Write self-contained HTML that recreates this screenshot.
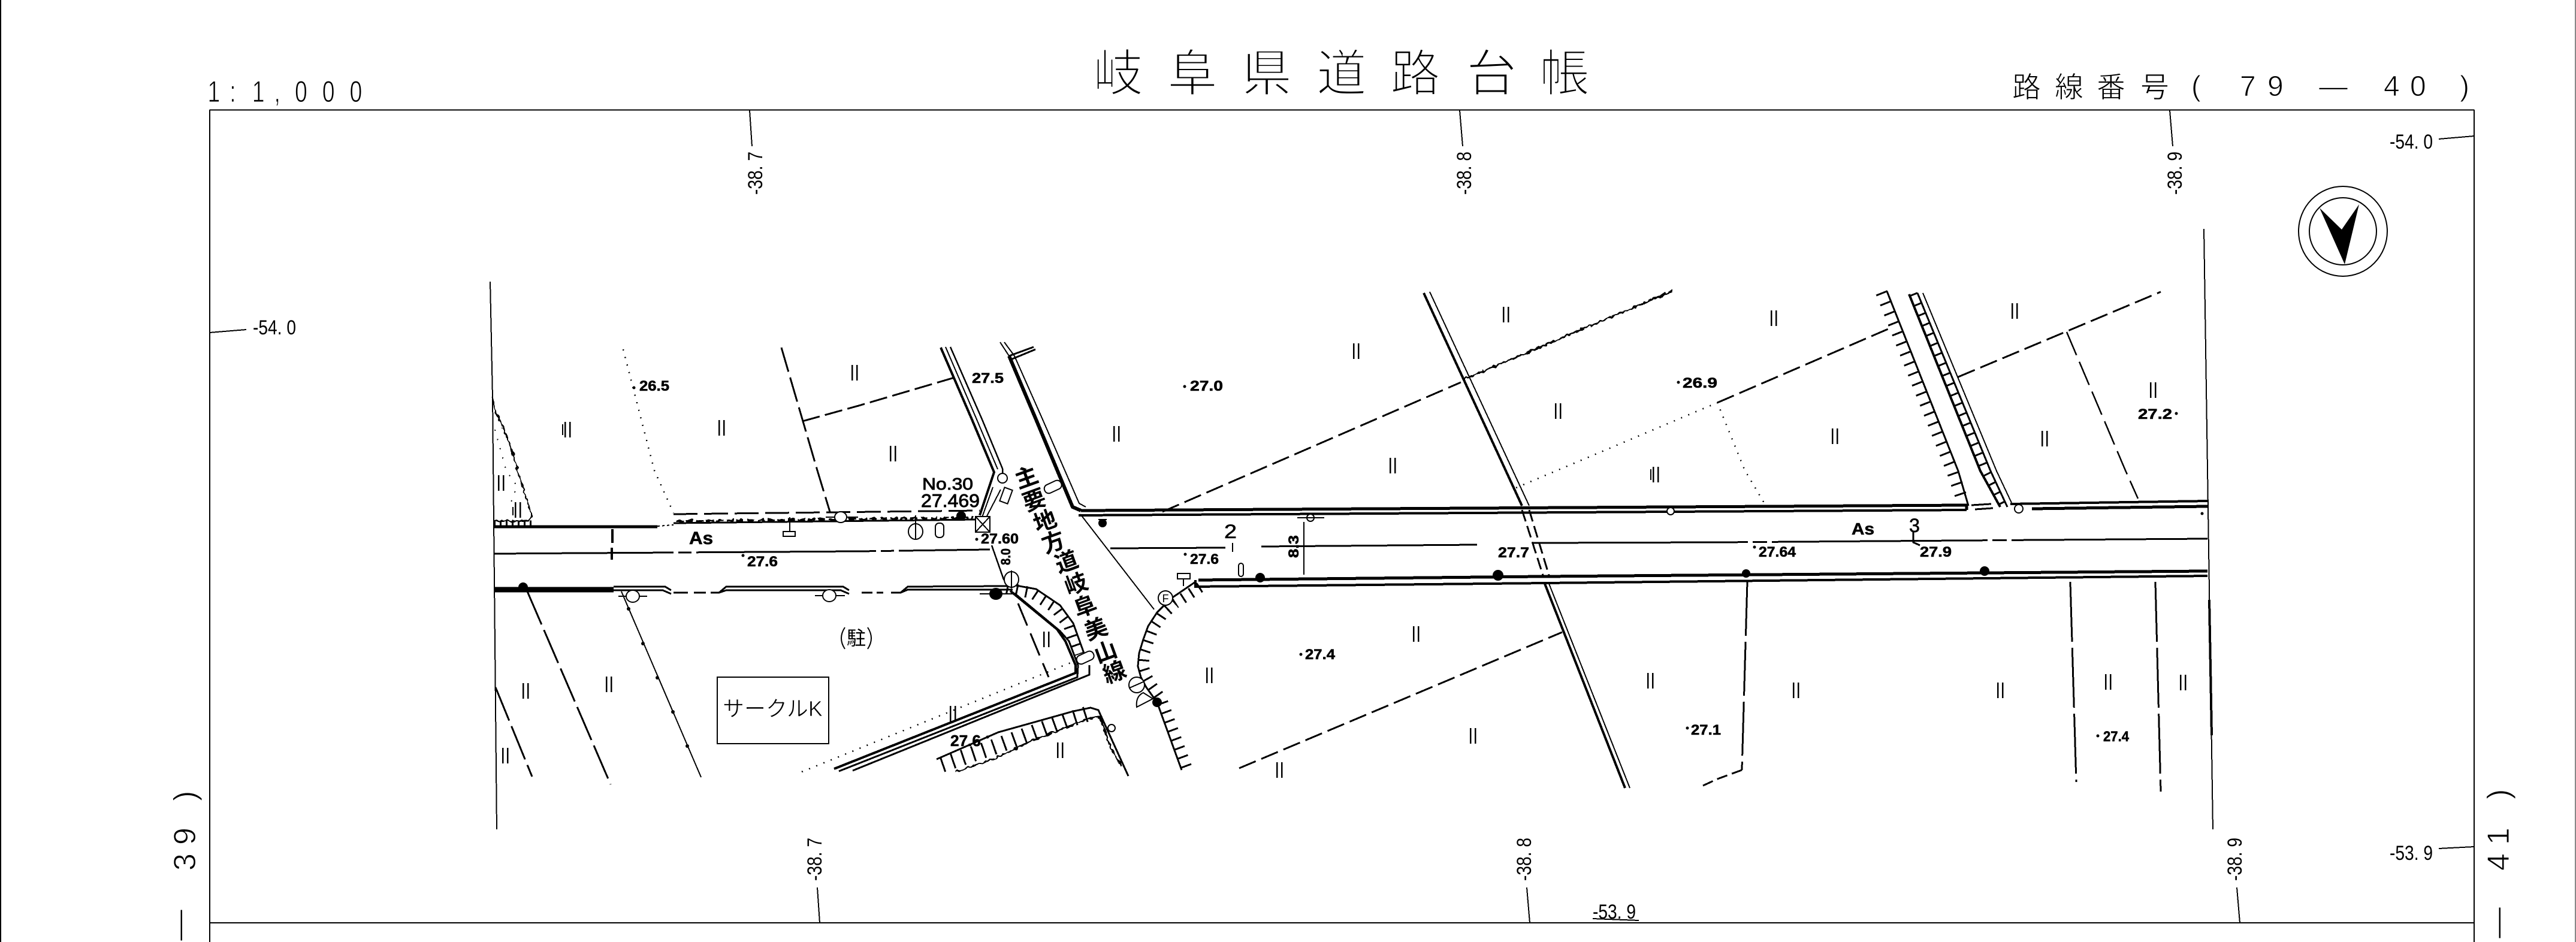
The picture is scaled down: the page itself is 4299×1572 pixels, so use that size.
<!DOCTYPE html>
<html lang="ja">
<head>
<meta charset="utf-8">
<title>岐阜県道路台帳</title>
<style>
html,body{margin:0;padding:0;background:#fff;width:4299px;height:1572px;overflow:hidden}
svg{display:block}
.l{fill:none;stroke:#000;stroke-width:2;shape-rendering:crispEdges}
.f{fill:#000;stroke:none}
.o{fill:#fff;stroke:#000;stroke-width:2}
text{font-family:"Liberation Sans","Noto Sans CJK JP",sans-serif;fill:#000}
.b{font-weight:700;font-size:24px;stroke:#000;stroke-width:.6}
.r{font-size:34px}
.thin{stroke:#fff;stroke-width:3}
.thin2{stroke:#fff;stroke-width:1}
.road{font-size:38px;font-weight:700;text-anchor:middle}
</style>
</head>
<body>
<svg xmlns="http://www.w3.org/2000/svg" width="4299" height="1572" viewBox="0 0 4299 1572">
<defs>
<filter id="w" filterUnits="userSpaceOnUse" x="0" y="0" width="4299" height="1572">
<feTurbulence type="fractalNoise" baseFrequency=".16" numOctaves="1" seed="3"/>
<feDisplacementMap in="SourceGraphic" scale="8" xChannelSelector="R" yChannelSelector="G"/>
</filter>
</defs>
<rect width="4299" height="1572" fill="#fff"/>

<!-- page edges and frame -->
<path class="l" d="M1,0V1572"/>
<path class="l" style="stroke:#888" d="M4298,0V1572"/>
<path class="l" d="M350,183V1572M4129,183V1572M350,183.500H4129M350,1540H4129"/>

<!-- headings -->
<text class="thin" font-size="84" x="1824 1948 2072 2197 2320 2447 2569" y="152">岐阜県道路台帳</text>
<text class="thin2" font-size="50" transform="scale(.75,1)" x="462 511 561 610 656 717 778" y="170">1:1,000</text>
<text class="thin2" font-size="48" x="3358 3429 3499 3572" y="162">路線番号</text>
<text class="thin2" font-size="48" x="3657 3738 3784 3870 3978 4022 4105" y="160">(79—40)</text>

<!-- grid ticks -->
<path class="l" d="M1251,184L1255,244M2436,184L2441,244M3621,184L3626,244M1364,1481L1368,1540M2548,1481L2553,1540M3733,1481L3738,1540M350,555L411,550M4070,232L4129,227M4070,1416L4129,1413M2658,1533L2735,1536"/>
<text class="r" transform="translate(1272,325) rotate(-90)" textLength="72" lengthAdjust="spacingAndGlyphs">-38. 7</text>
<text class="r" transform="translate(2455,325) rotate(-90)" textLength="72" lengthAdjust="spacingAndGlyphs">-38. 8</text>
<text class="r" transform="translate(3641,325) rotate(-90)" textLength="72" lengthAdjust="spacingAndGlyphs">-38. 9</text>
<text class="r" transform="translate(1371,1470) rotate(-90)" textLength="72" lengthAdjust="spacingAndGlyphs">-38. 7</text>
<text class="r" transform="translate(2555,1470) rotate(-90)" textLength="72" lengthAdjust="spacingAndGlyphs">-38. 8</text>
<text class="r" transform="translate(3741,1470) rotate(-90)" textLength="72" lengthAdjust="spacingAndGlyphs">-38. 9</text>
<text class="r" x="422" y="558" textLength="72" lengthAdjust="spacingAndGlyphs">-54. 0</text>
<text class="r" x="3988" y="248" textLength="72" lengthAdjust="spacingAndGlyphs">-54. 0</text>
<text class="r" x="3988" y="1435" textLength="72" lengthAdjust="spacingAndGlyphs">-53. 9</text>
<text class="r" x="2658" y="1533" textLength="72" lengthAdjust="spacingAndGlyphs">-53. 9</text>

<!-- side sheet numbers -->
<text class="thin2" font-size="52" transform="translate(316,1570) rotate(-90)">—</text>
<text class="thin2" font-size="52" transform="translate(326,1572) rotate(-90)" x="119 162 235" y="0">39)</text>
<text class="thin2" font-size="52" transform="translate(4185,1566) rotate(-90)">—</text>
<text class="thin2" font-size="52" transform="translate(4187,1572) rotate(-90)" x="119 162 238" y="0">41)</text>

<!-- north arrow -->
<ellipse class="l" style="shape-rendering:auto" cx="3910" cy="386" rx="74" ry="75"/>
<ellipse class="l" style="shape-rendering:auto" cx="3910" cy="386" rx="56" ry="56"/>
<polygon class="f" points="3871,347 3908,383 3937,341 3913,441"/>

<!-- match lines -->
<path class="l" d="M818,470L822,662L829,1384"/>
<path class="l" d="M3678,382L3693,1384"/>
<path class="l" style="stroke-width:4" d="M3687,1001L3691,1227"/>

<!-- main road west -->
<path class="l" style="stroke-width:5" d="M824,879H1097"/>
<path class="l" style="stroke-dasharray:4 4" d="M1097,878L1124,876"/>
<path class="l" style="stroke-width:3;stroke-dasharray:300 8 22 8" d="M824,924L1433,920L1652,917"/>
<path class="l" style="stroke-width:9" d="M824,984H1024"/>
<circle class="f" cx="873" cy="980" r="8"/>
<path class="l" style="stroke-width:3" d="M1024,979H1110L1120,985M1024,985H1106L1120,991"/>
<path class="l" style="stroke-width:3" d="M1124,989H1148M1158,989H1178M1186,989H1200L1212,979H1407L1417,985M1200,989L1212,985H1403L1417,991"/>
<path class="l" style="stroke-width:3" d="M1438,989H1456M1463,989H1474M1487,989H1503L1515,979L1684,978M1503,989L1515,984L1690,984"/>
<path class="l" style="stroke-width:3;stroke-dasharray:40 11" d="M1124,858L1635,852"/>
<path class="l" style="stroke-width:3" d="M1124,873L1632,867"/>
<path class="l" style="stroke-width:4;stroke-dasharray:12 5" filter="url(#w)" d="M1128,870L1625,864"/>
<path class="l" style="stroke-width:11;stroke-dasharray:3 7" d="M824,874H888"/>
<path class="l" style="stroke-width:4" d="M1022,883V906M1021,914V934"/>

<!-- left slope bank -->
<path class="l" style="stroke-width:2.500" filter="url(#w)" d="M821,662L827,687L841,717L855,752L864,786L877,826L888,861L882,869L824,869"/>
<path class="l" style="stroke-dasharray:2 14" d="M826,717L845,786L863,811L850,846"/>
<path class="l" style="stroke-width:2.500;stroke-dasharray:2 11" d="M1040,583L1092,785L1124,856"/>

<!-- parcel dashes -->
<path class="l" style="stroke-width:3;stroke-dasharray:42 10" d="M1304,580L1364,785L1385,854"/>
<path class="l" style="stroke-width:3;stroke-dasharray:30 9" d="M1339,703L1433,677L1593,630"/>
<path class="l" style="stroke-width:3;stroke-dasharray:60 10" d="M880,987L1019,1309"/>
<path class="l" style="stroke-width:3;stroke-dasharray:60 10" d="M827,1147L888,1296"/>
<path class="l" style="stroke-width:3;stroke-dasharray:30 10" d="M1940,854L2438,638"/>
<path class="l" style="stroke-width:3;stroke-dasharray:30 10" d="M2866,672L3158,546"/>
<path class="l" style="stroke-width:3;stroke-dasharray:30 10" d="M3268,629L3606,487"/>
<path class="l" style="stroke-width:2.500;stroke-dasharray:42 12" d="M3449,554L3547,785L3568,832"/>
<path class="l" style="stroke-width:3;stroke-dasharray:30 10" d="M2068,1282L2607,1055"/>
<path class="l" style="stroke-width:3;stroke-dasharray:90 10" d="M2916,971L2907,1285"/>
<path class="l" style="stroke-width:3;stroke-dasharray:18 8" d="M2907,1285L2866,1300L2840,1312"/>
<path class="l" style="stroke-width:3;stroke-dasharray:100 10" d="M3455,971L3465,1305"/>
<path class="l" style="stroke-width:3;stroke-dasharray:100 10" d="M3597,971L3606,1321"/>
<path class="l" style="stroke-width:3;stroke-dasharray:40 14" d="M1699,1007L1745,1118L1750,1130"/>
<path class="l" d="M1037,987L1170,1297"/>
<g class="f">
<circle cx="1049" cy="1016" r="3"/><circle cx="1073" cy="1074" r="3"/><circle cx="1097" cy="1131" r="3"/><circle cx="1123" cy="1188" r="3"/><circle cx="1147" cy="1245" r="3"/>
</g>
<path class="l" style="stroke-width:3" filter="url(#w)" d="M2443,633L2790,486"/>
<path class="l" style="stroke-width:2.500;stroke-dasharray:2 11" d="M2530,814L2866,672L2912,785L2944,839"/>

<!-- canal crossing -->
<path class="l" style="stroke-width:4" d="M2376,489L2540,844"/>
<path class="l" d="M2386,487L2552,844"/>
<path class="l" style="stroke-width:3;stroke-dasharray:20 8" d="M2540,851L2575,960M2552,851L2585,960"/>
<path class="l" style="stroke-width:2" d="M2585,974L2720,1315"/>
<path class="l" style="stroke-width:4" d="M2578,974L2712,1315"/>

<!-- north east embankment and channel -->
<path class="l" style="stroke-width:3" d="M3149,486L3268,786L3285,844"/>
<path class="l" style="stroke-width:20;stroke-dasharray:3 15" d="M3140,488L3259,788L3276,838"/>
<path class="l" style="stroke-width:4" d="M3186,491L3305,786L3338,846"/>
<path class="l" style="stroke-width:3" d="M3200,489L3322,786L3350,846"/>
<path class="l" d="M3209,489L3332,786L3357,839"/>
<path class="l" style="stroke-width:14;stroke-dasharray:3 15" d="M3193,490L3314,786L3344,846"/>

<!-- main road east -->
<path class="l" style="stroke-width:5" d="M1804,852L3282,843V851"/>
<path class="l" style="stroke-width:4" d="M1800,860L3282,851"/>
<path class="l" style="stroke-width:3" d="M3290,843L3323,841M3296,850L3326,848"/>
<path class="l" style="stroke-width:4" d="M3355,841L3684,836"/>
<path class="l" style="stroke-width:5" d="M3391,849L3684,845"/>
<path class="l" style="stroke-width:5" d="M2000,968L2574,962L3684,953"/>
<path class="l" style="stroke-width:4" d="M1995,968V979L2580,973L3684,961"/>
<path class="l" style="stroke-width:3;stroke-dasharray:360 8 24 8" d="M1853,915L2045,914M2105,912L2466,909M2557,906L2866,905L3684,899"/>

<!-- north-south road -->
<path class="l" style="stroke-width:4" d="M1570,580L1622,700L1659,788L1635,860"/>
<path class="l" d="M1578,579L1630,700L1665,783"/>
<path class="l" style="stroke-width:2.500" d="M1586,579L1639,700L1673,782V797"/>
<path class="l" d="M1657,813L1639,863M1670,817L1646,863"/>
<path class="l" style="stroke-width:6" d="M1684,594L1729,700L1790,846L1804,852"/>
<path class="l" d="M1669,571L1684,594M1676,571L1693,594L1740,700L1801,840L1812,846"/>
<path class="l" style="stroke-width:3" d="M1684,594L1725,579M1687,600L1728,583"/>
<path class="l" d="M1803,858L1926,1017"/>
<path class="l" style="stroke-width:2.500" d="M1655,910L1675,967L1684,975"/>

<!-- junction east arc -->
<path class="l" style="stroke-width:3" d="M1995,971L1954,999L1931,1022L1916,1045L1908,1067L1901,1090L1899,1112L1904,1130L1913,1147L1931,1172L1972,1285"/>
<path class="l" style="stroke-width:18;stroke-dasharray:3 13" d="M2003,980L1961,1007L1939,1027L1925,1048L1917,1069L1910,1090L1908,1112L1913,1128L1922,1144L1939,1168L1981,1282"/>

<!-- junction west curved bank -->
<path class="l" style="stroke-width:3" d="M1684,975L1729,983L1769,1010L1791,1040L1809,1090"/>
<path class="l" style="stroke-width:19;stroke-dasharray:3 13" d="M1680,981L1724,990L1762,1015L1784,1044L1801,1092"/>
<path class="l" style="stroke-width:4" d="M1686,986L1764,1050L1778,1070L1795,1110L1795,1123L1780,1129L1392,1283"/>
<path class="l" style="stroke-width:3" d="M1693,990L1769,1053L1784,1070L1799,1110L1798,1130L1400,1287"/>
<path class="l" style="stroke-width:3" d="M1818,1110V1126L1423,1286"/>
<path class="l" style="stroke-width:2.500;stroke-dasharray:2 11" d="M1338,1288L1789,1105"/>

<!-- south lot -->
<path class="l" style="stroke-width:3" d="M1563,1267L1666,1222L1791,1187L1820,1181L1833,1185L1883,1295"/>
<path class="l" style="stroke-width:3" filter="url(#w)" d="M1595,1288L1657,1267L1729,1233L1782,1213L1820,1198L1836,1197L1854,1250L1871,1277"/>
<path class="l" style="stroke-width:26;stroke-dasharray:3 15" d="M1572,1276L1660,1246L1787,1200L1822,1189"/>

<!-- land-use marks -->
<path class="l" style="stroke-width:2.500" d="M947,717m-4-13v26m8-26v26M1204,714m-4-13v26m8-26v26M1426,622m-4-13v26m8-26v26M1490,757m-4-13v26m8-26v26M1863,724m-4-13v26m8-26v26M2263,586m-4-13v26m8-26v26M2513,525m-4-13v26m8-26v26M2600,686m-4-13v26m8-26v26M2324,777m-4-13v26m8-26v26M2763,792m-4-13v26m8-26v26M2960,531m-4-13v26m8-26v26M3362,519m-4-13v26m8-26v26M3062,728m-4-13v26m8-26v26M3412,732m-4-13v26m8-26v26M3593,651m-4-13v26m8-26v26M1016,1142m-4-13v26m8-26v26M877,1153m-4-13v26m8-26v26M843,1261m-4-13v26m8-26v26M836,806m-4-13v26m8-26v26M864,851m-4-13v26m8-26v26M1746,1067m-4-13v26m8-26v26M2363,1058m-4-13v26m8-26v26M2018,1127m-4-13v26m8-26v26M2458,1228m-4-13v26m8-26v26M2135,1285m-4-13v26m8-26v26M2754,1136m-4-13v26m8-26v26M1769,1252m-4-13v26m8-26v26M1590,1191m-4-13v26m8-26v26M2997,1152m-4-13v26m8-26v26M3338,1152m-4-13v26m8-26v26M3518,1138m-4-13v26m8-26v26M3643,1139m-4-13v26m8-26v26"/>
<path class="l" d="M939,708v18M2755,783v18M856,846v14"/>

<!-- symbols -->
<g>
<path class="l" d="M1318,863V887M1378,863H1432M1032,995H1080M1360,994H1410M1635,991H1693"/>
<rect class="o" x="1307" y="887" width="20" height="8"/>
<ellipse class="o" cx="1403" cy="863" rx="10" ry="9"/>
<ellipse class="o" cx="1528" cy="887" rx="12" ry="13"/>
<path class="l" d="M1528,860V900"/>
<rect class="o" x="1561" y="873" width="14" height="24" rx="6"/>
<rect class="o" x="1628" y="862" width="24" height="26"/>
<path class="l" d="M1628,862L1652,888M1652,862L1628,888"/>
<circle class="f" cx="1604" cy="861" r="8"/>
<circle class="o" cx="1673" cy="798" r="8"/>
<rect class="o" x="1672" y="815" width="14" height="24" transform="rotate(20 1679 827)"/>
<ellipse class="o" cx="1688" cy="967" rx="12" ry="13"/>
<path class="l" d="M1688,952V982"/>
<ellipse class="f" cx="1662" cy="991" rx="11" ry="10"/>
<ellipse class="o" cx="1056" cy="995" rx="11" ry="10"/>
<ellipse class="o" cx="1384" cy="994" rx="11" ry="10"/>
<circle class="f" cx="1840" cy="873" r="7"/>
<path class="l" d="M1833,867H1847"/>
<rect class="o" x="1742" y="805" width="30" height="15" rx="7" transform="rotate(-25 1757 812)"/>
<rect class="o" x="1796" y="1090" width="30" height="15" rx="7" transform="rotate(-25 1811 1097)"/>
<circle class="o" cx="1945" cy="998" r="12"/>
<text x="1945" y="1005" font-size="18" text-anchor="middle">F</text>
<rect class="o" x="1965" y="957" width="21" height="9"/>
<path class="l" d="M1975,966V978"/>
<ellipse class="o" cx="1897" cy="1143" rx="13" ry="13"/>
<path class="l" d="M1885,1148L1910,1137"/>
<path class="o" d="M1897,1180L1924,1166L1908,1156Q1895,1162 1897,1180Z"/>
<circle class="f" cx="1931" cy="1172" r="8"/>
<circle class="o" cx="2187" cy="864" r="6"/>
<path class="l" d="M2165,864H2210"/>
<rect class="o" x="2067" y="940" width="8" height="22" rx="4"/>
<circle class="f" cx="2103" cy="964" r="8"/>
<circle class="f" cx="2500" cy="960" r="9"/>
<circle class="o" cx="2788" cy="853" r="6"/>
<circle class="f" cx="2914" cy="957" r="7"/>
<circle class="f" cx="3312" cy="953" r="8"/>
<circle class="o" cx="3369" cy="849" r="7"/>
<circle class="o" cx="1855" cy="1215" r="6"/>
<path class="l" d="M2176,871V959"/>
<path class="l" d="M2057,906V921"/>
<path class="l" style="stroke-width:3" d="M3193,888V905L3204,910"/>
<g class="f">
<circle cx="1058" cy="647" r="2.500"/><circle cx="1977" cy="645" r="2.500"/><circle cx="2801" cy="638" r="2.500"/><circle cx="3632" cy="690" r="2.500"/><circle cx="1630" cy="900" r="2.500"/><circle cx="1978" cy="925" r="2.500"/><circle cx="2928" cy="913" r="2.500"/><circle cx="2171" cy="1092" r="2.500"/><circle cx="2816" cy="1215" r="2.500"/><circle cx="3501" cy="1228" r="2.500"/><circle cx="1648" cy="1230" r="2.500"/><circle cx="1240" cy="927" r="2.500"/><circle cx="3675" cy="857" r="2.500"/>
</g>
</g>

<!-- spot heights -->
<text class="b" x="1067" y="652" textLength="50" lengthAdjust="spacingAndGlyphs">26.5</text>
<text class="b" x="1622" y="639" textLength="53" lengthAdjust="spacingAndGlyphs">27.5</text>
<text class="b" x="1986" y="652" textLength="55" lengthAdjust="spacingAndGlyphs">27.0</text>
<text class="b" x="2808" y="647" textLength="58" lengthAdjust="spacingAndGlyphs">26.9</text>
<text class="b" x="3568" y="699" textLength="57" lengthAdjust="spacingAndGlyphs">27.2</text>
<text x="1539" y="817" font-size="28" stroke="#000" stroke-width=".9" textLength="85" lengthAdjust="spacingAndGlyphs">No.30</text>
<text x="1537" y="846" font-size="31" stroke="#000" stroke-width=".9" textLength="98" lengthAdjust="spacingAndGlyphs">27.469</text>
<text class="b" x="1637" y="907" textLength="63" lengthAdjust="spacingAndGlyphs">27.60</text>
<text class="b" style="font-size:30px" x="1150" y="908" textLength="40" lengthAdjust="spacingAndGlyphs">As</text>
<text class="b" x="1247" y="945" textLength="51" lengthAdjust="spacingAndGlyphs">27.6</text>
<text class="b" style="font-size:32px;font-weight:400" x="2043" y="898" textLength="21" lengthAdjust="spacingAndGlyphs">2</text>
<text class="b" x="1986" y="941" textLength="48" lengthAdjust="spacingAndGlyphs">27.6</text>
<text class="b" transform="translate(2167,931) rotate(-90)" textLength="38" lengthAdjust="spacingAndGlyphs">8.3</text>
<text class="b" x="2500" y="930" textLength="52" lengthAdjust="spacingAndGlyphs">27.7</text>
<text class="b" x="2935" y="929" textLength="62" lengthAdjust="spacingAndGlyphs">27.64</text>
<text class="b" style="font-size:28px" x="3090" y="892" textLength="38" lengthAdjust="spacingAndGlyphs">As</text>
<text class="b" style="font-size:32px;font-weight:400" x="3186" y="888" textLength="18" lengthAdjust="spacingAndGlyphs">3</text>
<text class="b" x="3204" y="929" textLength="53" lengthAdjust="spacingAndGlyphs">27.9</text>
<text class="b" x="2178" y="1100" textLength="50" lengthAdjust="spacingAndGlyphs">27.4</text>
<text class="b" x="2822" y="1226" textLength="50" lengthAdjust="spacingAndGlyphs">27.1</text>
<text class="b" x="3510" y="1237" textLength="43" lengthAdjust="spacingAndGlyphs">27.4</text>
<text class="b" style="font-size:26px" x="1586" y="1245" textLength="51" lengthAdjust="spacingAndGlyphs">27.6</text>
<text class="b" style="font-size:22px" transform="translate(1686,943) rotate(-90)" textLength="28" lengthAdjust="spacingAndGlyphs">8.0</text>

<!-- building -->
<rect class="l" x="1197" y="1130" width="186" height="111"/>
<text class="thin2" style="stroke-width:.7" font-size="36" x="1206" y="1195">サークルK</text>

<!-- parking -->
<text x="1429" y="1076" font-size="32" text-anchor="middle">駐</text>
<path class="l" style="shape-rendering:auto" d="M1410,1047Q1398,1065 1410,1083M1448,1047Q1460,1065 1448,1083"/>

<!-- road name -->
<g>
<text class="road" transform="translate(1713,797) rotate(-20)" y="13">主</text>
<text class="road" transform="translate(1726,835) rotate(-20)" y="13">要</text>
<text class="road" transform="translate(1744,870) rotate(-20)" y="13">地</text>
<text class="road" transform="translate(1758,905) rotate(-20)" y="13">方</text>
<text class="road" transform="translate(1780,938) rotate(-20)" y="13">道</text>
<text class="road" transform="translate(1796,975) rotate(-20)" y="13">岐</text>
<text class="road" transform="translate(1811,1012) rotate(-20)" y="13">阜</text>
<text class="road" transform="translate(1829,1050) rotate(-20)" y="13">美</text>
<text class="road" transform="translate(1845,1088) rotate(-20)" y="13">山</text>
<text class="road" transform="translate(1860,1122) rotate(-20)" y="13">線</text>
</g>
</svg>
</body>
</html>
